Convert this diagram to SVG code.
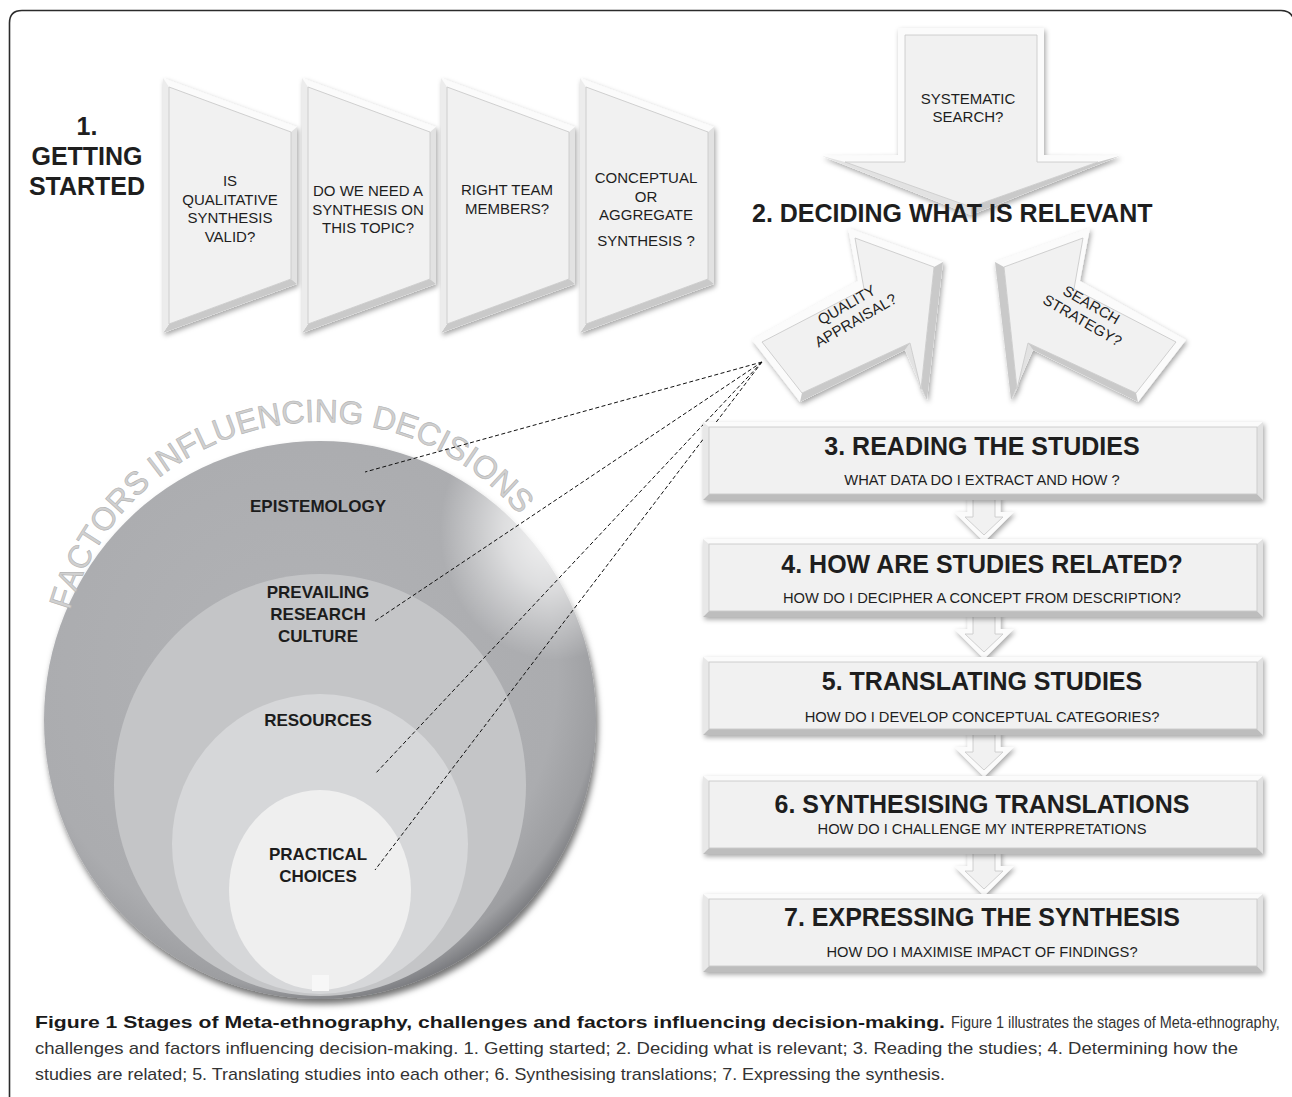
<svg xmlns="http://www.w3.org/2000/svg" xmlns:xlink="http://www.w3.org/1999/xlink" width="1292" height="1097" viewBox="0 0 1292 1097">
<style>
  text { font-family: "Liberation Sans", Arial, sans-serif; fill: #1e1e1e; }
  .q { font-size: 15px; text-anchor: middle; }
  .big { font-size: 25px; font-weight: bold; }
  .title { font-size: 25px; font-weight: bold; text-anchor: middle; }
  .sub { font-size: 14.7px; text-anchor: middle; }
  .lab { font-size: 17px; font-weight: bold; text-anchor: middle; fill: #1c1c1c; }
  .cap { font-size: 17px; fill: #333; }
  .capb { font-size: 17px; font-weight: bold; fill: #1a1a1a; }
  .arc { font-size: 32px; text-anchor: middle; fill: #d0d0d0; stroke: #b2b2b2; stroke-width: 0.6; }
  .rim { fill: #fbfbfb; }
  .face { fill: #f1f1f1; stroke: #cbcbcb; stroke-width: 0.9; }
  .dk { fill: #c9c9c9; }
  .md { fill: #e2e2e2; }
  .dash { fill: none; stroke: #111; stroke-width: 1; stroke-dasharray: 4 2.5; }
</style>
<defs>
  <filter id="sh" x="-20%" y="-20%" width="140%" height="140%">
    <feDropShadow dx="1.5" dy="2.5" stdDeviation="2.5" flood-color="#000" flood-opacity="0.35"/>
  </filter>
  <filter id="shBig" x="-10%" y="-10%" width="120%" height="120%">
    <feDropShadow dx="2" dy="5" stdDeviation="3" flood-color="#000" flood-opacity="0.55"/>
  </filter>
  <radialGradient id="gOuter" cx="0.45" cy="0.42" r="0.6">
    <stop offset="0" stop-color="#b2b3b6"/>
    <stop offset="0.8" stop-color="#abacaf"/>
    <stop offset="0.93" stop-color="#9d9ea1"/>
    <stop offset="1" stop-color="#75767a"/>
  </radialGradient>
  <radialGradient id="gGlow" cx="0.5" cy="0.5" r="0.5">
    <stop offset="0" stop-color="#ffffff" stop-opacity="0.9"/>
    <stop offset="0.45" stop-color="#ffffff" stop-opacity="0.6"/>
    <stop offset="1" stop-color="#ffffff" stop-opacity="0"/>
  </radialGradient>
  <g id="chevShape">
    <polygon class="rim" points="0,0 134,49 134,206 0,255"/>
    <polygon class="md" points="134,49 134,206 128,201 128,54"/>
    <polygon class="dk" points="134,206 0,255 6,246 128,201"/>
    <polygon fill="#ececec" points="0,255 0,0 6,9 6,246"/>
    <polygon class="face" points="6,9 128,54 128,201 6,246"/>
  </g>
  <g id="boxShape">
    <rect class="rim" x="0" y="0" width="560" height="78"/>
    <polygon fill="#e8e8e8" points="0,0 6,5 6,72 0,78"/>
    <polygon class="md" points="560,0 560,78 554,72 554,5"/>
    <polygon fill="#bdbdbd" points="0,78 6,72 554,72 560,78"/>
    <rect class="face" x="6" y="5" width="548" height="67"/>
  </g>
  <g id="connShape">
    <polygon class="rim" points="-16.5,-3 16.5,-3 16.5,12 30,12 0,42 -30,12 -16.5,12"/>
    <polygon class="face" points="-11,-3 11,-3 11,17 19,17 0,35 -19,17 -11,17"/>
  </g>
  <g id="sideArrow">
    <polygon class="rim" points="752,340 858,281 848,228 943,262 927,400 905,350 800,402"/>
    <polygon class="dk" points="943,262 927,400 921,389 934,267"/>
    <polygon class="md" points="927,400 905,350 910,343 921,389"/>
    <polygon class="dk" points="905,350 800,402 802,393 910,343"/>
    <polygon class="face" points="762,342 864,289 855,238 934,267 921,389 910,343 802,393"/>
  </g>
</defs>

<rect width="1292" height="1097" fill="#ffffff"/>
<path d="M 9.5 1097 L 9.5 23 Q 9.5 10.5 22 10.5 L 1281 10.5 Q 1292 10.5 1294 21" fill="none" stroke="#2b2b2b" stroke-width="1.6"/>

<!-- 1. Getting started -->
<g id="getting-started">
  <text class="big" text-anchor="middle" x="87" y="135">1.</text>
  <text class="big" text-anchor="middle" x="87" y="165">GETTING</text>
  <text class="big" text-anchor="middle" x="87" y="195">STARTED</text>
</g>
<g id="chev1">
  <use xlink:href="#chevShape" href="#chevShape" x="163" y="78" filter="url(#sh)"/>
  <text class="q" x="230" y="186">IS</text>
  <text class="q" x="230" y="204.5">QUALITATIVE</text>
  <text class="q" x="230" y="223">SYNTHESIS</text>
  <text class="q" x="230" y="241.5">VALID?</text>
</g>
<g id="chev2">
  <use xlink:href="#chevShape" href="#chevShape" x="302" y="78" filter="url(#sh)"/>
  <text class="q" x="368" y="196">DO WE NEED A</text>
  <text class="q" x="368" y="214.5">SYNTHESIS ON</text>
  <text class="q" x="368" y="233">THIS TOPIC?</text>
</g>
<g id="chev3">
  <use xlink:href="#chevShape" href="#chevShape" x="441" y="78" filter="url(#sh)"/>
  <text class="q" x="507" y="195">RIGHT TEAM</text>
  <text class="q" x="507" y="214">MEMBERS?</text>
</g>
<g id="chev4">
  <use xlink:href="#chevShape" href="#chevShape" x="580" y="78" filter="url(#sh)"/>
  <text class="q" x="646" y="183">CONCEPTUAL</text>
  <text class="q" x="646" y="201.5">OR</text>
  <text class="q" x="646" y="220">AGGREGATE</text>
  <text class="q" x="646" y="246">SYNTHESIS ?</text>
</g>

<!-- 2. Deciding what is relevant -->
<g id="systematic-search">
  <g filter="url(#sh)">
    <polygon class="rim" points="898,28 1044,28 1044,155 1120,156 971,215 822,156 898,155"/>
    <polygon class="dk" points="1120,156 971,215 971,207 1098,162"/>
    <polygon class="md" points="971,215 822,156 845,162 971,207"/>
    <polygon class="face" points="905,35 1037,35 1037,162 1098,162 971,207 845,162 905,162"/>
  </g>
  <text class="q" x="968" y="104">SYSTEMATIC</text>
  <text class="q" x="968" y="122">SEARCH?</text>
</g>
<g id="quality-appraisal">
  <use xlink:href="#sideArrow" href="#sideArrow" filter="url(#sh)"/>
  <g transform="translate(778,370) rotate(-30)">
    <text class="q" x="92" y="-17">QUALITY</text>
    <text class="q" x="92" y="1">APPRAISAL?</text>
  </g>
</g>
<g id="search-strategy">
  <g filter="url(#sh)">
    <use xlink:href="#sideArrow" href="#sideArrow" transform="translate(1938,0) scale(-1,1)"/>
  </g>
  <g transform="translate(1160,370) rotate(30)">
    <text class="q" x="-92" y="-17">SEARCH</text>
    <text class="q" x="-92" y="1">STRATEGY?</text>
  </g>
</g>
<g id="deciding-title">
  <text class="big" x="752" y="222">2. DECIDING WHAT IS RELEVANT</text>
</g>

<!-- Factors influencing decisions -->
<g id="factors">
  <ellipse cx="320" cy="720" rx="276" ry="279" fill="url(#gOuter)" filter="url(#shBig)"/>
  <ellipse cx="555" cy="530" rx="115" ry="130" fill="url(#gGlow)"/>
  <g id="arc-title">
    <text class="arc" transform="translate(72.8,601.4) rotate(-71.95)">F</text>
    <text class="arc" transform="translate(79.9,582.3) rotate(-67.44)">A</text>
    <text class="arc" transform="translate(89.3,562.1) rotate(-62.54)">C</text>
    <text class="arc" transform="translate(99.9,543.6) rotate(-57.84)">T</text>
    <text class="arc" transform="translate(112.6,525.3) rotate(-52.94)">O</text>
    <text class="arc" transform="translate(127.7,507.0) rotate(-47.66)">R</text>
    <text class="arc" transform="translate(143.5,491.1) rotate(-42.76)">S</text>
    <text class="arc" transform="translate(161.8,475.7) rotate(-37.47)">I</text>
    <text class="arc" transform="translate(174.9,466.3) rotate(-33.94)">N</text>
    <text class="arc" transform="translate(193.0,455.1) rotate(-29.24)">F</text>
    <text class="arc" transform="translate(209.6,446.6) rotate(-25.13)">L</text>
    <text class="arc" transform="translate(228.4,438.7) rotate(-20.62)">U</text>
    <text class="arc" transform="translate(249.6,431.7) rotate(-15.72)">E</text>
    <text class="arc" transform="translate(271.2,426.6) rotate(-10.82)">N</text>
    <text class="arc" transform="translate(294.0,423.3) rotate(-5.73)">C</text>
    <text class="arc" transform="translate(310.0,422.2) rotate(-2.21)">I</text>
    <text class="arc" transform="translate(326.0,422.1) rotate(1.32)">N</text>
    <text class="arc" transform="translate(349.9,423.7) rotate(6.61)">G</text>
    <text class="arc" transform="translate(382.3,429.6) rotate(13.86)">D</text>
    <text class="arc" transform="translate(403.6,435.8) rotate(18.75)">E</text>
    <text class="arc" transform="translate(424.3,443.8) rotate(23.65)">C</text>
    <text class="arc" transform="translate(438.8,450.7) rotate(27.18)">I</text>
    <text class="arc" transform="translate(452.0,458.0) rotate(30.51)">S</text>
    <text class="arc" transform="translate(464.8,466.0) rotate(33.84)">I</text>
    <text class="arc" transform="translate(478.6,476.0) rotate(37.57)">O</text>
    <text class="arc" transform="translate(496.8,491.4) rotate(42.86)">N</text>
    <text class="arc" transform="translate(512.5,507.2) rotate(47.75)">S</text>
  </g>
</g>
<g id="epistemology">
  <text class="lab" x="318" y="512">EPISTEMOLOGY</text>
</g>
<g id="research-culture">
  <ellipse cx="320" cy="785" rx="206" ry="211" fill="#c4c5c7"/>
  <text class="lab" x="318" y="598">PREVAILING</text>
  <text class="lab" x="318" y="620">RESEARCH</text>
  <text class="lab" x="318" y="642">CULTURE</text>
</g>
<g id="resources">
  <ellipse cx="320" cy="844" rx="148" ry="150" fill="#d6d7d9"/>
  <text class="lab" x="318" y="726">RESOURCES</text>
</g>
<g id="practical-choices">
  <ellipse cx="320" cy="890" rx="91" ry="100" fill="#efefef"/>
  <text class="lab" x="318" y="860">PRACTICAL</text>
  <text class="lab" x="318" y="882">CHOICES</text>
  <rect x="312" y="975" width="17" height="16" fill="#f7f7f7"/>
</g>

<!-- Steps 3-7 -->
<g id="connectors">
  <use xlink:href="#connShape" href="#connShape" x="984" y="500" filter="url(#sh)"/>
  <use xlink:href="#connShape" href="#connShape" x="984" y="617" filter="url(#sh)"/>
  <use xlink:href="#connShape" href="#connShape" x="984" y="735" filter="url(#sh)"/>
  <use xlink:href="#connShape" href="#connShape" x="984" y="854" filter="url(#sh)"/>
  <line class="dash" x1="762" y1="362" x2="365" y2="472"/>
  <line class="dash" x1="762" y1="362" x2="375" y2="621"/>
  <line class="dash" x1="762" y1="362" x2="375" y2="774"/>
  <line class="dash" x1="762" y1="362" x2="375" y2="870"/>
</g>
<g id="step3">
  <use xlink:href="#boxShape" href="#boxShape" x="703" y="422" filter="url(#sh)"/>
  <text class="title" x="982" y="455">3. READING THE STUDIES</text>
  <text class="sub" x="982" y="485">WHAT DATA DO I EXTRACT AND HOW ?</text>
</g>
<g id="step4">
  <use xlink:href="#boxShape" href="#boxShape" x="703" y="539" filter="url(#sh)"/>
  <text class="title" x="982" y="573">4. HOW ARE STUDIES RELATED?</text>
  <text class="sub" x="982" y="603">HOW DO I DECIPHER A CONCEPT FROM DESCRIPTION?</text>
</g>
<g id="step5">
  <use xlink:href="#boxShape" href="#boxShape" x="703" y="657" filter="url(#sh)"/>
  <text class="title" x="982" y="690">5. TRANSLATING STUDIES</text>
  <text class="sub" x="982" y="722">HOW DO I DEVELOP CONCEPTUAL CATEGORIES?</text>
</g>
<g id="step6">
  <use xlink:href="#boxShape" href="#boxShape" x="703" y="776" filter="url(#sh)"/>
  <text class="title" x="982" y="813">6. SYNTHESISING TRANSLATIONS</text>
  <text class="sub" x="982" y="834">HOW DO I CHALLENGE MY INTERPRETATIONS</text>
</g>
<g id="step7">
  <use xlink:href="#boxShape" href="#boxShape" x="703" y="894" filter="url(#sh)"/>
  <text class="title" x="982" y="926">7. EXPRESSING THE SYNTHESIS</text>
  <text class="sub" x="982" y="957">HOW DO I MAXIMISE IMPACT OF FINDINGS?</text>
</g>

<!-- Caption -->
<g id="caption">
  <text class="capb" x="35" y="1028" textLength="910" lengthAdjust="spacingAndGlyphs">Figure 1 Stages of Meta-ethnography, challenges and factors influencing decision-making.</text>
  <text class="cap" transform="translate(951,1028) scale(0.85,1)" x="0" y="0">Figure 1 illustrates the stages of Meta-ethnography,</text>
  <text class="cap" x="35" y="1054" textLength="1203" lengthAdjust="spacingAndGlyphs">challenges and factors influencing decision-making. 1. Getting started; 2. Deciding what is relevant; 3. Reading the studies; 4. Determining how the</text>
  <text class="cap" x="35" y="1080" textLength="910" lengthAdjust="spacingAndGlyphs">studies are related; 5. Translating studies into each other; 6. Synthesising translations; 7. Expressing the synthesis.</text>
</g>
</svg>
